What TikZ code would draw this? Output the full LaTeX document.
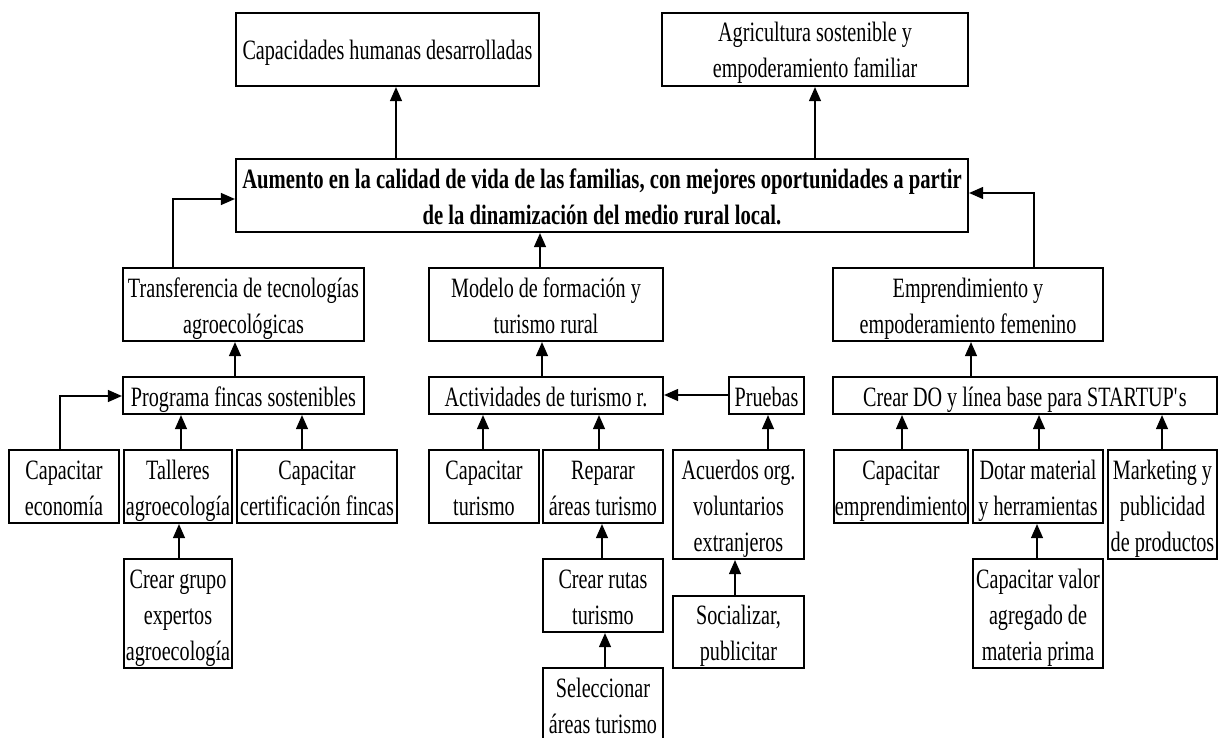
\documentclass[tikz,border=0pt]{standalone}
\usepackage{fontspec}
\setmainfont{Liberation Serif}[FakeStretch=0.72, BoldFeatures={FakeStretch=0.738}]
\usetikzlibrary{arrows.meta}
\tikzset{
  box/.style={draw, line width=2.2pt, inner sep=0pt, align=center, font=\fontsize{28}{36}\selectfont},
  arr/.style={line width=1.2pt, -{Triangle[width=12pt,length=14pt]}},
}
\newcommand\mystrut{\rule[-7.5pt]{0pt}{36pt}}
\newcommand\straightq{{\XeTeXglyph\XeTeXcharglyph"27\relax}}
\newcommand\mybox[6]{\node[box, minimum width={(#4-#2)*1pt}, minimum height={(#5-#3)*1pt}] (#1) at ({(#2+#4)/2},{(#3+#5)/2}) {\mystrut#6\mystrut};}
\begin{document}
\begin{tikzpicture}[x=1pt,y=-1pt]
\clip (0,0) rectangle (1222,738);
\fill[white] (0,0) rectangle (1222,738);
% top level
\mybox{B1}{236}{13}{539}{86}{Capacidades humanas desarrolladas}
\mybox{B2}{662}{13}{968}{86}{Agricultura sostenible y\\empoderamiento familiar}
\node[box, font=\fontsize{28}{36}\selectfont\bfseries, minimum width=732pt, minimum height=73pt] (main) at (602,195.5)
  {\mystrut Aumento en la calidad de vida de las familias, con mejores oportunidades a partir\\de la dinamización del medio rural local.\mystrut};
% second level
\mybox{Transf}{123}{268}{364}{341}{Transferencia de tecnologías\\agroecológicas}
\mybox{Modelo}{429}{268}{663}{341}{Modelo de formación y\\turismo rural}
\mybox{Empr}{833}{268}{1103}{341}{Emprendimiento y\\empoderamiento femenino}
% third level
\mybox{Prog}{123}{377}{364}{414}{Programa fincas sostenibles}
\mybox{Activ}{429}{377}{663}{414}{Actividades de turismo r.}
\mybox{Pruebas}{729}{377}{804}{414}{Pruebas}
\mybox{CrearDO}{833}{377}{1217}{414}{Crear DO y línea base para STARTUP\straightq s}
% fourth level
\mybox{CapEcon}{9}{450}{119}{523}{Capacitar\\economía}
\mybox{Talleres}{124}{450}{232}{523}{Talleres\\agroecología}
\mybox{Cert}{237}{450}{397}{523}{Capacitar\\certificación fincas}
\mybox{CapTur}{429}{450}{539}{523}{Capacitar\\turismo}
\mybox{Reparar}{543}{450}{663}{523}{Reparar\\áreas turismo}
\mybox{Acuerdos}{673}{450}{804}{559}{Acuerdos org.\\voluntarios\\extranjeros}
\mybox{CapEmp}{834}{450}{968}{523}{Capacitar\\emprendimiento}
\mybox{Dotar}{973}{450}{1103}{523}{Dotar material\\y herramientas}
\mybox{Market}{1108}{450}{1217}{559}{Marketing y\\publicidad\\de productos}
% fifth level
\mybox{Grupo}{124}{559}{232}{668}{Crear grupo\\expertos\\agroecología}
\mybox{Rutas}{543}{559}{663}{632}{Crear rutas\\turismo}
\mybox{Social}{673}{596}{804}{668}{Socializar,\\publicitar}
\mybox{Valor}{973}{559}{1103}{668}{Capacitar valor\\agregado de\\materia prima}
\mybox{Selec}{543}{668}{663}{741}{Seleccionar\\áreas turismo}
% connector x positions
\path (396,0) coordinate (xa) (815,0) coordinate (xb) (540,0) coordinate (xc)
      (235,0) coordinate (xd) (542,0) coordinate (xe) (971,0) coordinate (xf)
      (181,0) coordinate (xg) (302,0) coordinate (xh) (179,0) coordinate (xi)
      (483,0) coordinate (xj) (599,0) coordinate (xk) (768,0) coordinate (xl)
      (602,0) coordinate (xm) (605,0) coordinate (xn) (735,0) coordinate (xo)
      (902,0) coordinate (xp) (1039,0) coordinate (xq) (1162,0) coordinate (xr)
      (1037,0) coordinate (xs);
\coordinate (ea) at (173,199);
\coordinate (eb) at (1034,193);
\coordinate (ec) at (60,396);
\coordinate (ed) at (0,395);
% connectors
\draw[arr] (main.north -| xa) -- (B1.south -| xa);
\draw[arr] (main.north -| xb) -- (B2.south -| xb);
\draw[arr] (Transf.north -| ea) |- (main.west |- ea);
\draw[arr] (Modelo.north -| xc) -- (main.south -| xc);
\draw[arr] (Empr.north -| eb) |- (main.east |- eb);
\draw[arr] (Prog.north -| xd) -- (Transf.south -| xd);
\draw[arr] (Activ.north -| xe) -- (Modelo.south -| xe);
\draw[arr] (CrearDO.north -| xf) -- (Empr.south -| xf);
\draw[arr] (CapEcon.north -| ec) |- (Prog.west |- ec);
\draw[arr] (Talleres.north -| xg) -- (Prog.south -| xg);
\draw[arr] (Cert.north -| xh) -- (Prog.south -| xh);
\draw[arr] (Grupo.north -| xi) -- (Talleres.south -| xi);
\draw[arr] (CapTur.north -| xj) -- (Activ.south -| xj);
\draw[arr] (Reparar.north -| xk) -- (Activ.south -| xk);
\draw[arr] (Pruebas.west |- ed) -- (Activ.east |- ed);
\draw[arr] (Acuerdos.north -| xl) -- (Pruebas.south -| xl);
\draw[arr] (Rutas.north -| xm) -- (Reparar.south -| xm);
\draw[arr] (Selec.north -| xn) -- (Rutas.south -| xn);
\draw[arr] (Social.north -| xo) -- (Acuerdos.south -| xo);
\draw[arr] (CapEmp.north -| xp) -- (CrearDO.south -| xp);
\draw[arr] (Dotar.north -| xq) -- (CrearDO.south -| xq);
\draw[arr] (Market.north -| xr) -- (CrearDO.south -| xr);
\draw[arr] (Valor.north -| xs) -- (Dotar.south -| xs);
\end{tikzpicture}
\end{document}
